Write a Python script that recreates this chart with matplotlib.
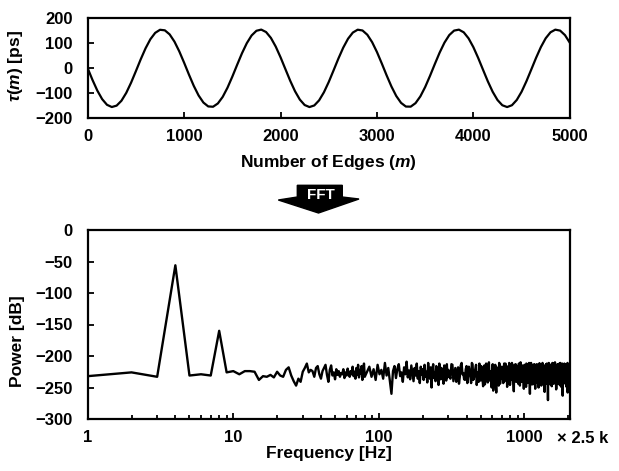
import numpy as np
import matplotlib
matplotlib.use("Agg")
from matplotlib import pyplot as plt
from matplotlib.patches import Polygon
from matplotlib.ticker import FixedLocator, LogLocator, NullFormatter

plt.rcParams['font.family'] = ['Liberation Sans', 'DejaVu Sans']
plt.rcParams['font.weight'] = 'bold'
plt.rcParams['mathtext.fontset'] = 'custom'
plt.rcParams['mathtext.rm'] = 'Liberation Sans:bold'
plt.rcParams['mathtext.it'] = 'Liberation Sans:italic:bold'
plt.rcParams['mathtext.bf'] = 'Liberation Sans:bold'

# --- top panel: timing error tau(m), sampled every 50 edges ---
edge_step = 50
tau_ps = [
    0.0, -46.8, -89.3, -123.4, -146.0, -154.9, -149.3, -129.8, -98.2, -57.4,
    -11.2, 36.1, 79.9, 116.3, 141.8, 154.1, 151.9, 135.6, 106.6, 67.6,
    22.3, -25.1, -70.2, -108.6, -137.0, -152.5, -153.8, -140.6, -114.4, -77.5,
    -33.3, 14.0, 60.0, 100.4, 131.4, 150.1, 154.8, 145.0, 121.6, 86.9,
    44.1, -2.9, -49.6, -91.6, -125.1, -146.9, -155.0, -148.6, -128.2, -95.9,
    -54.7, -8.3, 38.9, 82.4, 118.2, 143.0, 154.4, 151.3, 134.2, 104.5,
    65.0, 19.4, -28.0, -72.7, -110.7, -138.3, -153.0, -153.4, -139.4, -112.4,
    -74.9, -30.4, 16.9, 62.7, 102.6, 132.9, 150.8, 154.6, 143.9, 119.8,
    84.5, 41.3, -5.8, -52.3, -93.9, -126.8, -147.8, -155.0, -147.7, -126.6,
    -93.7, -51.9, -5.4, 41.7, 84.8, 120.1, 144.1, 154.6, 150.7, 132.7,
    102.3,
]
edges = np.arange(len(tau_ps)) * edge_step

# --- bottom panel: FFT power spectrum [dB] ---
# bins 1..80 Hz, one value per bin
power_low = [
    -232, -226, -233, -56, -231, -229, -231, -160, -226, -224,
    -229, -224, -224, -225, -238, -232, -233, -230, -234, -225,
    -231, -233, -222, -218, -231, -240, -247, -236, -241, -225,
    -219, -212, -226, -222, -224, -233, -219, -216, -229, -236,
    -224, -219, -214, -230, -241, -222, -215, -231, -226, -237,
    -221, -230, -224, -233, -227, -229, -221, -235, -226, -231,
    -220, -228, -233, -224, -229, -217, -232, -225, -236, -219,
    -230, -214, -234, -222, -228, -216, -238, -224, -212, -233,
]
# every 3rd bin from 83 Hz
power_mid = [
    -225, -217, -233, -221, -238, -214, -229, -222, -236, -211,
    -231, -219, -240, -260, -224, -216, -235, -220, -213, -232,
    -226, -241, -218, -229, -209, -234, -223, -237, -215, -228,
    -240, -219, -231, -212, -236, -224, -243, -217, -230, -221,
    -238, -214, -233, -225, -242, -211, -229, -236, -218, -250,
    -223, -213, -235, -227, -240, -216, -231, -220, -246, -212,
    -228, -237, -219, -233, -224, -244, -215, -230, -222, -239,
    -213, -234, -226,
]
# bins 300, 310, ... Hz
power_high_a = [
    -222, -236, -214, -229, -241, -218, -232, -211, -227, -238,
    -216, -231, -224, -243, -213, -235, -220, -246, -226, -212,
    -239, -221, -248, -215, -233, -227, -242, -210, -230, -237,
    -219, -255, -228, -214, -258, -236, -223, -211, -244, -229,
    -217, -234, -226, -240, -212, -231, -249, -220, -236, -215,
    -238, -225, -211, -233, -244, -219, -230, -213, -241, -227,
    -216, -235, -222, -247, -210, -232, -238, -218, -229, -252,
    -214, -237, -225, -212, -243, -221, -233, -216, -240, -260,
    -224, -211, -236, -229, -245, -218, -231, -213, -239, -226,
    -219, -242, -214, -233, -227, -250, -212, -236, -221, -230,
    -241, -216, -228, -211, -237, -224, -246, -215, -232, -220,
    -238, -213, -229, -243, -218, -270, -226, -211, -235, -222,
    -240, -217, -231, -214, -248, -225, -236, -212, -229, -244,
    -219, -233, -210, -238, -226, -253, -215, -230, -222, -241,
    -213, -235, -227, -245, -218, -232, -211, -239, -224, -249,
    -216, -230, -221, -263, -237, -214, -228, -242, -212, -234,
    -225, -240, -217, -231, -246, -213, -236, -222, -258, -229,
    -215, -238, -226, -244, -220,
]
# bins 305, 315, ... Hz
power_high_b = [
    -231, -213, -240, -219, -226, -244, -215, -229, -237, -221,
    -243, -217, -232, -211, -238, -225, -214, -233, -241, -227,
    -216, -236, -222, -245, -212, -230, -219, -239, -224, -250,
    -213, -234, -226, -242, -218, -231, -247, -214, -228, -236,
    -221, -243, -212, -237, -225, -216, -235, -229, -211, -246,
    -223, -238, -217, -231, -256, -214, -240, -226, -219, -233,
    -244, -212, -229, -236, -220, -241, -215, -227, -234, -218,
    -239, -223, -249, -213, -231, -226, -242, -211, -237, -220,
    -233, -245, -216, -228, -240, -214, -235, -222, -252, -217,
    -231, -213, -238, -226, -243, -219, -229, -212, -236, -224,
    -247, -215, -233, -221, -240, -216, -230, -257, -218, -236,
    -223, -244, -212, -229, -237, -214, -241, -225, -213, -234,
    -220, -246, -216, -232, -239, -211, -228, -243, -219, -235,
    -225, -214, -240, -229, -217, -251, -222, -236, -213, -231,
    -244, -218, -227, -212, -238, -223, -247, -216, -233, -221,
    -239, -212, -230, -226, -245, -218, -234, -214, -241, -224,
    -213, -237, -228, -216, -249, -221, -232, -211, -243, -226,
    -219, -235, -214, -240, -223,
]
power_high = np.empty(len(power_high_a) + len(power_high_b))
power_high[0::2] = power_high_a
power_high[1::2] = power_high_b

freq = np.concatenate([
    1 + np.arange(len(power_low)),
    83 + 3 * np.arange(len(power_mid)),
    300 + 5 * np.arange(len(power_high)),
])
power_db = np.concatenate([power_low, power_mid, power_high])

W, H = 619, 471
fig = plt.figure(figsize=(W / 100, H / 100), dpi=100)

def px_axes(x0, y0, x1, y1):
    return fig.add_axes([x0 / W, 1 - y1 / H, (x1 - x0) / W, (y1 - y0) / H])

def style(ax):
    for s in ax.spines.values():
        s.set_linewidth(1.6)
    ax.tick_params(which='both', direction='in', width=1.3, top=False, right=False,
                   labelsize=12, pad=8)
    ax.tick_params(axis='y', pad=11)
    ax.tick_params(which='major', length=4)
    ax.tick_params(which='minor', length=3)

# top panel
ax1 = px_axes(87.7, 18.3, 569.8, 118.3)
ax1.plot(edges, tau_ps, color='black', lw=1.6)
ax1.set_xlim(0, 5000)
ax1.set_ylim(-200, 200)
ax1.set_xticks([0, 1000, 2000, 3000, 4000, 5000])
ax1.set_yticks([-200, -100, 0, 100, 200])
style(ax1)
ax1.set_xlabel('Number of Edges ($m$)', fontsize=12.5, fontweight='bold')
ax1.xaxis.set_label_coords(0.5, -0.35)
ax1.set_ylabel(r'$\tau$($m$) [ps]', fontsize=12.5, fontweight='bold')
ax1.yaxis.set_label_coords(-0.13, 0.52)

# bottom panel
ax2 = px_axes(87.7, 230, 569.8, 419)
ax2.plot(freq, power_db, color='black', lw=1.7)
ax2.set_xscale('log')
ax2.set_xlim(1, 2048)
ax2.set_ylim(-300, 0)
ax2.set_yticks(np.arange(-300, 1, 50))
ax2.xaxis.set_major_locator(FixedLocator([1, 10, 100, 1000]))
ax2.set_xticklabels(['1', '10', '100', '1000'])
ax2.xaxis.set_minor_locator(LogLocator(base=10, subs=np.arange(2, 10)))
ax2.xaxis.set_minor_formatter(NullFormatter())
style(ax2)
ax2.set_xlabel('Frequency [Hz]', fontsize=12.5, fontweight='bold')
ax2.xaxis.set_label_coords(0.5, -0.145)
ax2.set_ylabel('Power [dB]', fontsize=12.5, fontweight='bold')
ax2.yaxis.set_label_coords(-0.13, 0.41)
ax2.text(1.027, -0.066, '\u00d7 2.5 k', transform=ax2.transAxes, ha='center',
         va='top', fontsize=12, fontweight='bold')

# FFT block arrow between the panels (pixel coordinates)
arrow_px = [(297.3, 185.3), (342.3, 185.3), (342.3, 197), (359, 199),
            (318.5, 213), (278.3, 200), (297.3, 197)]
arrow = Polygon([(x / W, 1 - y / H) for x, y in arrow_px], closed=True,
                facecolor='black', edgecolor='black', transform=fig.transFigure)
fig.patches.append(arrow)
fig.text(321 / W, 1 - 195 / H, 'FFT', color='white', fontsize=11,
         fontweight='bold', ha='center', va='center')

fig.savefig('out.png', dpi=100)
